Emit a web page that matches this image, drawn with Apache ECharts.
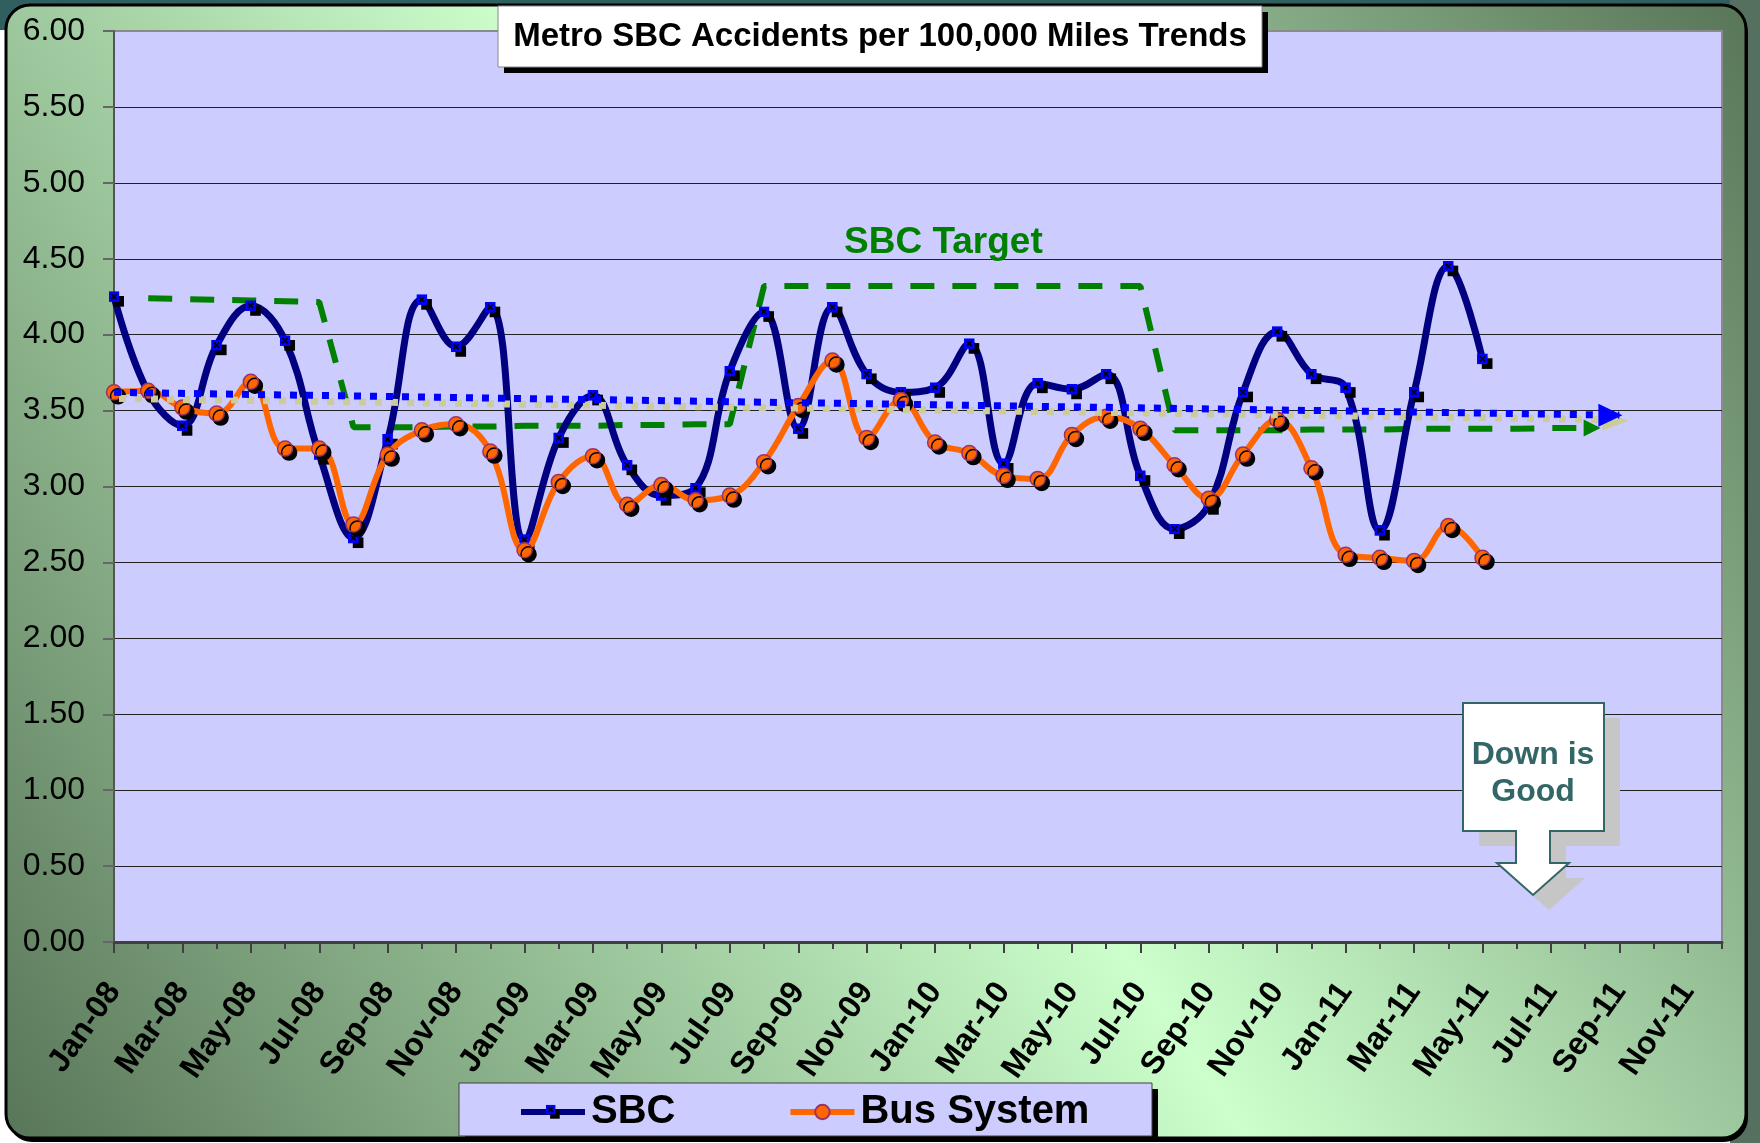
<!DOCTYPE html>
<html>
<head>
<meta charset="utf-8">
<title>Metro SBC Accidents per 100,000 Miles Trends</title>
<script src="https://cdn.jsdelivr.net/npm/echarts@6/dist/echarts.min.js"></script>
<style>
  html, body { margin: 0; padding: 0; background: #ffffff; }
  #chart { width: 1760px; height: 1143px; }
</style>
</head>
<body>
<div id="chart"></div>
<script>
const FONT = '"Liberation Sans", Arial, sans-serif';

const months = [
    'Jan-08', 'Feb-08', 'Mar-08', 'Apr-08', 'May-08', 'Jun-08', 'Jul-08', 'Aug-08', 'Sep-08', 'Oct-08', 'Nov-08', 'Dec-08',
    'Jan-09', 'Feb-09', 'Mar-09', 'Apr-09', 'May-09', 'Jun-09', 'Jul-09', 'Aug-09', 'Sep-09', 'Oct-09', 'Nov-09', 'Dec-09',
    'Jan-10', 'Feb-10', 'Mar-10', 'Apr-10', 'May-10', 'Jun-10', 'Jul-10', 'Aug-10', 'Sep-10', 'Oct-10', 'Nov-10', 'Dec-10',
    'Jan-11', 'Feb-11', 'Mar-11', 'Apr-11', 'May-11', 'Jun-11', 'Jul-11', 'Aug-11', 'Sep-11', 'Oct-11', 'Nov-11', 'Dec-11'
];

// Jan-08 .. May-11
const sbc = [
    4.25, 3.62, 3.40, 3.93, 4.19, 3.96, 3.21, 2.66, 3.31, 4.23, 3.92, 4.18,
    2.65, 3.32, 3.60, 3.14, 2.94, 2.99, 3.76, 4.15, 3.38, 4.18, 3.74, 3.62,
    3.65, 3.94, 3.15, 3.68, 3.64, 3.74, 3.07, 2.72, 2.88, 3.62, 4.02, 3.74,
    3.65, 2.71, 3.62, 4.45, 3.84
];
const busSystem = [
    3.62, 3.63, 3.52, 3.48, 3.69, 3.25, 3.25, 2.75, 3.21, 3.37, 3.41, 3.23,
    2.58, 3.03, 3.20, 2.88, 3.01, 2.91, 2.94, 3.16, 3.53, 3.83, 3.32, 3.57,
    3.29, 3.22, 3.07, 3.05, 3.34, 3.46, 3.38, 3.14, 2.92, 3.21, 3.44, 3.12,
    2.55, 2.53, 2.51, 2.74, 2.53
];
// Feb-08 .. Aug-11
const sbcTarget = [
    null, 4.24, 4.235, 4.23, 4.225, 4.22, 4.215,
    3.39, 3.39, 3.39, 3.395, 3.395, 3.40, 3.40, 3.40, 3.405, 3.405, 3.41, 3.41,
    4.32, 4.32, 4.32, 4.32, 4.32, 4.32, 4.32, 4.32, 4.32, 4.32, 4.32, 4.32,
    3.37, 3.37, 3.37, 3.37, 3.375, 3.375, 3.375, 3.38, 3.38, 3.38, 3.38, 3.385, 3.385
];
// linear trends, start and end
const sbcTrend = [['Jan-08', 3.62], ['Sep-11', 3.47]];
const busTrend = [['Jan-08', 3.58], ['Sep-11', 3.44]];

// top grid line is the grey plot border
const gridColors = ['#222', '#222', '#222', '#222', '#222', '#222', '#222',
    '#222', '#222', '#222', '#222', '#222', '#8a8a8a'];

const sbcSvg = '<svg xmlns="http://www.w3.org/2000/svg" width="15" height="15" viewBox="0 0 15 15">' +
    '<rect x="4.5" y="4.5" width="10" height="10" fill="#000"/>' +
    '<rect x="0" y="0" width="10" height="10" fill="#0000FF"/>' +
    '<path d="M2.6 2.6L7.4 7.4M7.4 2.6L2.6 7.4" stroke="#000" stroke-width="1.6"/></svg>';
const sbcSymbol = 'image://data:image/svg+xml;utf8,' + encodeURIComponent(sbcSvg);
const arrowRight = 'path://M0,0L24,12L0,24Z';

function withArrow(list, size, offset, color) {
    // put an arrow head on the last point of a line
    const out = list.slice();
    const last = out.length - 1;
    out[last] = {
        value: out[last],
        symbol: arrowRight,
        symbolSize: size,
        symbolOffset: offset,
        itemStyle: { color: color }
    };
    return out;
}

const myChart = echarts.init(document.getElementById('chart'), null, { renderer: 'canvas' });

const option = {
    animation: false,
    textStyle: { fontFamily: FONT },
    grid: {
        left: 114, right: 38, top: 31, bottom: 201,
        show: true,
        backgroundColor: '#CCCCFF',
        borderColor: '#8a8a8a',
        borderWidth: 2
    },
    xAxis: [{
        type: 'category',
        data: months,
        boundaryGap: false,
        axisLine: { lineStyle: { color: '#404040', width: 3 } },
        axisTick: { interval: 0, length: 7, lineStyle: { color: '#404040', width: 2 } },
        axisLabel: {
            interval: 1, rotate: 55, margin: 44,
            fontSize: 32, fontWeight: 'bold', color: '#000', fontFamily: FONT
        },
        splitLine: { show: false }
    }, {
        // longer ticks under the labelled months
        type: 'category',
        data: months,
        boundaryGap: false,
        position: 'bottom',
        axisLine: { show: false },
        axisTick: { interval: 1, length: 11, lineStyle: { color: '#404040', width: 2 } },
        axisLabel: { show: false },
        splitLine: { show: false }
    }],
    yAxis: {
        type: 'value',
        min: 0, max: 6, interval: 0.5,
        axisLine: { show: true, lineStyle: { color: '#555', width: 2 } },
        axisTick: { show: true, length: 11, lineStyle: { color: '#666', width: 2 } },
        axisLabel: {
            margin: 29, fontSize: 32, color: '#000', fontFamily: FONT,
            formatter: function (v) { return v.toFixed(2); }
        },
        splitLine: { lineStyle: { color: gridColors, width: 1 } }
    },
    legend: {
        data: ['SBC', 'Bus System'],
        left: 518, top: 1092,
        padding: 0,
        itemWidth: 64, itemHeight: 18, itemGap: 112,
        selectedMode: false,
        z: 10,
        lineStyle: { width: 6 },
        itemStyle: { shadowBlur: 0, shadowOffsetX: 0, shadowOffsetY: 0, shadowColor: 'rgba(0,0,0,0)' },
        textStyle: { fontSize: 40, fontWeight: 'bold', color: '#000', fontFamily: FONT, padding: [4, 0, 0, 1] }
    },
    series: [{
        name: 'SBC Target',
        type: 'line',
        data: withArrow(sbcTarget, [17, 17], [7, 0], '#008000'),
        symbol: 'none',
        lineStyle: { color: '#008000', width: 6, type: [24, 18] },
        itemStyle: { color: '#008000' },
        z: 2
    }, {
        name: 'SBC',
        type: 'line',
        data: sbc,
        smooth: 0.4,
        symbol: sbcSymbol,
        symbolSize: 16,
        symbolOffset: [2.5, 2.5],
        lineStyle: { color: '#000080', width: 7 },
        itemStyle: { color: '#000080' },
        z: 3
    }, {
        name: 'Bus System',
        type: 'line',
        data: busSystem,
        smooth: 0.4,
        symbol: 'circle',
        symbolSize: 15,
        lineStyle: { color: '#FF6600', width: 6 },
        itemStyle: {
            color: '#FF6600', borderColor: '#993366', borderWidth: 1.5,
            shadowColor: '#000', shadowBlur: 0, shadowOffsetX: 4, shadowOffsetY: 4
        },
        z: 4
    }, {
        name: 'Bus Trend',
        type: 'line',
        data: withArrow(busTrend, [26, 20], [-4, 1], '#CCCC99'),
        symbol: 'none',
        lineStyle: { color: '#CCCC99', width: 7, type: [7, 9], dashOffset: -5 },
        z: 5
    }, {
        name: 'SBC Trend',
        type: 'line',
        data: withArrow(sbcTrend, [24, 23], [-9, 0], '#0000FF'),
        symbol: 'none',
        lineStyle: { color: '#0000FF', width: 7, type: [7, 9] },
        z: 6
    }],
    graphic: [
        // slide background bits
        { type: 'rect', z: -30, silent: true, shape: { x: 0, y: 0, width: 1760, height: 30 }, style: { fill: '#2F5F5F' } },
        { type: 'rect', z: -30, silent: true, shape: { x: 1730, y: 0, width: 30, height: 1143 }, style: { fill: '#55705F' } },
        { type: 'rect', z: -25, silent: true, shape: { x: 8, y: 9, width: 1740, height: 1133, r: 24 }, style: { fill: '#000' } },
        {
            type: 'rect', z: -20, silent: true,
            shape: { x: 6, y: 5, width: 1740, height: 1133, r: 24 },
            style: {
                fill: new echarts.graphic.LinearGradient(0, 1, 1, 0, [
                    { offset: 0, color: '#587558' },
                    { offset: 0.5, color: '#CCFFCC' },
                    { offset: 1, color: '#587558' }
                ]),
                stroke: '#000', lineWidth: 3
            }
        },
        // title box
        { type: 'rect', z: 50, silent: true, shape: { x: 504, y: 12, width: 764, height: 61 }, style: { fill: '#000' } },
        { type: 'rect', z: 51, silent: true, shape: { x: 498, y: 6, width: 764, height: 61 }, style: { fill: '#fff', stroke: '#888', lineWidth: 1 } },
        {
            type: 'text', z: 52, silent: true, x: 880, y: 37,
            style: {
                text: 'Metro SBC Accidents per 100,000 Miles Trends',
                font: 'bold 33px ' + FONT, fill: '#000',
                textAlign: 'center', textVerticalAlign: 'middle'
            }
        },
        {
            type: 'text', z: 50, silent: true, x: 844, y: 243,
            style: {
                text: 'SBC Target', font: 'bold 37px ' + FONT, fill: '#008000',
                textAlign: 'left', textVerticalAlign: 'middle'
            }
        },
        // "Down is Good" callout
        {
            type: 'polygon', z: 50, silent: true,
            shape: { points: [[1479, 718], [1620, 718], [1620, 846], [1566, 846], [1566, 878], [1585, 878], [1549, 910], [1513, 878], [1532, 878], [1532, 846], [1479, 846]] },
            style: { fill: '#C6C6C6' }
        },
        {
            type: 'polygon', z: 51, silent: true,
            shape: { points: [[1463, 703], [1604, 703], [1604, 831], [1550, 831], [1550, 863], [1569, 863], [1533, 895], [1497, 863], [1516, 863], [1516, 831], [1463, 831]] },
            style: { fill: '#fff', stroke: '#336666', lineWidth: 2 }
        },
        {
            type: 'text', z: 52, silent: true, x: 1533, y: 755,
            style: { text: 'Down is', font: 'bold 32px ' + FONT, fill: '#336666', textAlign: 'center', textVerticalAlign: 'middle' }
        },
        {
            type: 'text', z: 52, silent: true, x: 1533, y: 792,
            style: { text: 'Good', font: 'bold 32px ' + FONT, fill: '#336666', textAlign: 'center', textVerticalAlign: 'middle' }
        },
        // legend box
        { type: 'rect', z: 8, silent: true, shape: { x: 465, y: 1089, width: 693, height: 48 }, style: { fill: '#000' } },
        { type: 'rect', z: 9, silent: true, shape: { x: 459, y: 1083, width: 693, height: 53 }, style: { fill: '#CCCCFF', stroke: '#404040', lineWidth: 1 } }
    ]
};

myChart.setOption(option);
</script>
</body>
</html>
